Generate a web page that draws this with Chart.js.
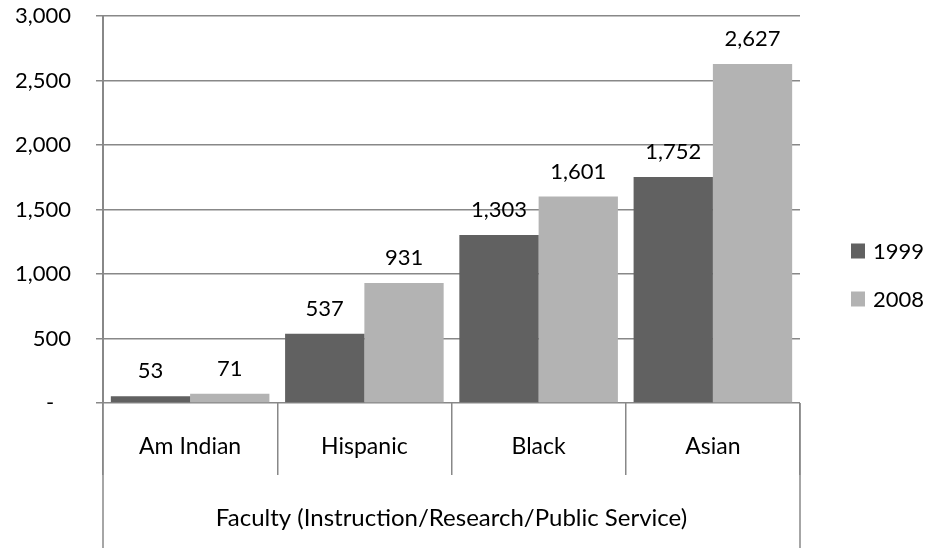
<!DOCTYPE html>
<html>
<head>
<meta charset="utf-8">
<script src="https://cdn.jsdelivr.net/npm/chart.js@4.4.1/dist/chart.umd.min.js"></script>
<style>
  html, body { margin: 0; padding: 0; background: #fff; }
  #wrap { width: 930px; height: 548px; }
</style>
</head>
<body>
<div id="wrap"><canvas id="chart" width="930" height="548"></canvas></div>
<script>
// DATA
const categories = ["Am Indian", "Hispanic", "Black", "Asian"];
const groupLabel = "Faculty (Instruction/Research/Public Service)";
const seriesNames = ["1999", "2008"];
const values1999 = [53, 537, 1303, 1752];
const values2008 = [71, 931, 1601, 2627];
const yTicks = [0, 500, 1000, 1500, 2000, 2500, 3000];

const FONT = "Lato";
const LINE = "#888888";

Chart.defaults.font.family = FONT;
Chart.defaults.font.size = 22;
Chart.defaults.color = "#000";

// value labels above bars
const barLabels = {
  id: "barLabels",
  afterDatasetsDraw(chart) {
    const ctx = chart.ctx;
    ctx.save();
    ctx.font = "22px " + FONT;
    ctx.fillStyle = "#000";
    ctx.textAlign = "center";
    ctx.textBaseline = "middle";
    chart.data.datasets.forEach((ds, i) => {
      chart.getDatasetMeta(i).data.forEach((bar, j) => {
        ctx.fillText(ds.data[j].toLocaleString("en-US"), bar.x, bar.y - 25);
      });
    });
    ctx.restore();
  }
};

// outer frame lines under the axis + legend
const extras = {
  id: "extras",
  afterDraw(chart) {
    const ctx = chart.ctx;
    const a = chart.chartArea;
    ctx.save();
    ctx.strokeStyle = LINE;
    ctx.lineWidth = 1.5;
    [a.left, a.right].forEach(x => {
      ctx.beginPath();
      ctx.moveTo(x, a.bottom);
      ctx.lineTo(x, chart.height);
      ctx.stroke();
    });

    // legend
    ctx.font = "22px " + FONT;
    ctx.textAlign = "left";
    ctx.textBaseline = "middle";
    chart.data.datasets.forEach((ds, i) => {
      const y = 251 + i * 48;
      ctx.fillStyle = ds.backgroundColor;
      ctx.fillRect(a.right + 51, y - 7.5, 14, 15);
      ctx.fillStyle = "#000";
      ctx.fillText(ds.label, a.right + 73, y + 1);
    });
    ctx.restore();
  }
};

new Chart(document.getElementById("chart"), {
  type: "bar",
  data: {
    labels: categories,
    datasets: [
      { label: seriesNames[0], data: values1999, backgroundColor: "#616161" },
      { label: seriesNames[1], data: values2008, backgroundColor: "#b3b3b3" }
    ]
  },
  options: {
    responsive: false,
    animation: false,
    layout: { padding: { top: 16, right: 130, left: 0, bottom: 0 } },
    datasets: {
      bar: { categoryPercentage: 0.91, barPercentage: 1.0, borderWidth: 0 }
    },
    plugins: {
      legend: { display: false },
      tooltip: { enabled: false }
    },
    scales: {
      x: {
        offset: true,
        grid: {
          offset: true,
          drawOnChartArea: false,
          tickLength: 72,
          color: LINE,
          lineWidth: 1.5
        },
        border: { display: false },
        ticks: { padding: -42, font: { size: 23 } },
        title: {
          display: true,
          text: groupLabel,
          font: { size: 24 },
          padding: { top: 0, bottom: 15 }
        },
        afterFit(scale) { scale.height = 145; }
      },
      y: {
        min: 0,
        max: 3000,
        afterBuildTicks(scale) {
          scale.ticks = yTicks.map(v => ({ value: v }));
        },
        grid: {
          color: LINE,
          lineWidth: 1.5,
          tickLength: 7
        },
        border: { display: true, color: LINE, width: 2 },
        ticks: {
          padding: 25,
          font: { size: 22 },
          callback: v => v === 0 ? "-   " : v.toLocaleString("en-US")
        },
        afterFit(scale) {
          scale.width = 103;
          scale.paddingTop = 0;
          scale.paddingBottom = 0;
        }
      }
    }
  },
  plugins: [barLabels, extras]
});
</script>
</body>
</html>
